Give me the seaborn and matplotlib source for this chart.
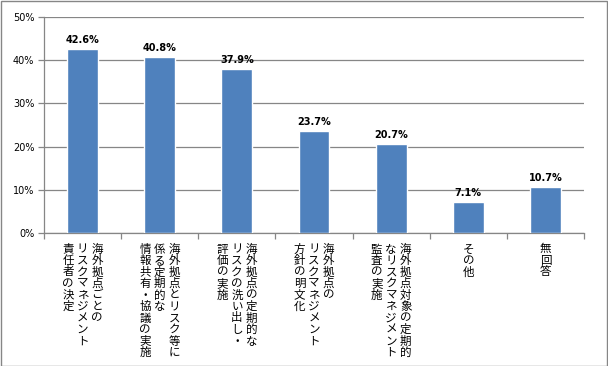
import matplotlib
matplotlib.use("Agg")
import matplotlib.pyplot as plt
import seaborn as sns
import pandas as pd
from matplotlib.patches import Rectangle

# data
labels = [
    ["海外拠点ごとの", "リスクマネジメント", "責任者の決定"],
    ["海外拠点とリスク等に", "係る定期的な", "情報共有・協議の実施"],
    ["海外拠点の定期的な", "リスクの洗い出し・", "評価の実施"],
    ["海外拠点の", "リスクマネジメント", "方針の明文化"],
    ["海外拠点対象の定期的", "なリスクマネジメント", "監査の実施"],
    ["その他"],
    ["無回答"],
]
values = [42.6, 40.8, 37.9, 23.7, 20.7, 7.1, 10.7]
yticks = [0, 10, 20, 30, 40, 50]

sns.set_style("white")
plt.rcParams['font.family'] = ['Noto Sans CJK JP', 'DejaVu Sans']
plt.rcParams['text.color'] = 'black'
plt.rcParams['ytick.labelcolor'] = 'black'

df = pd.DataFrame({"item": ["".join(l) for l in labels], "pct": values})

fig = plt.figure(figsize=(6.08, 3.66), dpi=100)
ax = fig.add_axes([44 / 608, 1 - 233 / 366, 540 / 608, 216 / 366])

sns.barplot(data=df, x="item", y="pct", color="#4F81BD", width=0.4,
            saturation=1, ax=ax, zorder=3)

ax.set_ylim(0, 50)
ax.set_xlim(-0.5, len(values) - 0.5)
ax.set_yticks(yticks)
ax.set_yticklabels([f"{t}%" for t in yticks], family="DejaVu Sans", fontsize=7,
                   color="black")
ax.yaxis.grid(True, color="#868686", linewidth=0.9, zorder=0)
ax.set_xlabel("")
ax.set_ylabel("")
ax.set_xticks([i - 0.5 for i in range(len(values) + 1)])
ax.set_xticklabels([])
ax.tick_params(axis="both", which="both", direction="out", length=4,
               color="#868686", width=0.9, left=True, bottom=True, pad=3)
for side in ["top", "right"]:
    ax.spines[side].set_visible(False)
for side in ["left", "bottom"]:
    ax.spines[side].set_color("#868686")
    ax.spines[side].set_linewidth(0.9)

# value labels
for i, v in enumerate(values):
    ax.annotate(f"{v}%", xy=(i, v), xytext=(0, 4), textcoords="offset pixels",
                ha="center", va="bottom", fontsize=7, fontweight="bold",
                family="DejaVu Sans", color="black")

# vertical Japanese category labels (columns right to left)
col_gap = 14.5
char_h = 11.5
for i, cols in enumerate(labels):
    n = len(cols)
    for j, col in enumerate(cols):
        dx = ((n - 1) / 2 - j) * col_gap
        for k, ch in enumerate(col):
            ax.annotate(ch, xy=(i, 0), xytext=(dx, -10 - k * char_h - 6),
                        textcoords="offset pixels", ha="center", va="center",
                        fontsize=8.3, color="black", annotation_clip=False)

fig.patches.append(Rectangle((0.5 / 608, 0.5 / 366), 1 - 1.5 / 608, 1 - 1.5 / 366,
                             transform=fig.transFigure, fill=False,
                             edgecolor="#868686", linewidth=1))

fig.savefig("out.png", dpi=100)
